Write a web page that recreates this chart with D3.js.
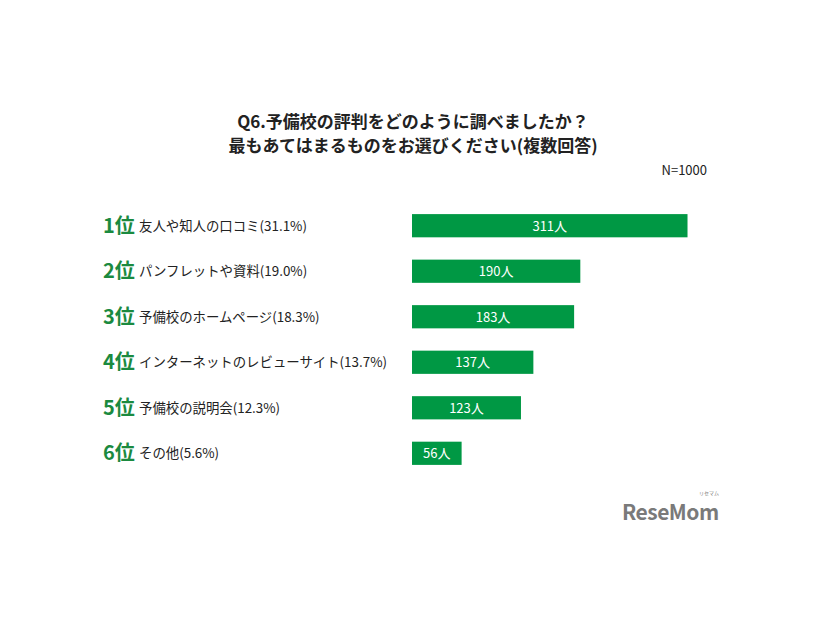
<!DOCTYPE html>
<html>
<head>
<meta charset="utf-8">
<script src="https://cdn.jsdelivr.net/npm/d3@7"></script>
<style>
  body { margin: 0; background: #fff; }
  text { font-family: "Noto Sans CJK JP", "Noto Sans", sans-serif; }
</style>
</head>
<body>
<div id="chart"></div>
<script>
const ranks = ["1位", "2位", "3位", "4位", "5位", "6位"];
const labels = [
    "友人や知人の口コミ(31.1%)",
    "パンフレットや資料(19.0%)",
    "予備校のホームページ(18.3%)",
    "インターネットのレビューサイト(13.7%)",
    "予備校の説明会(12.3%)",
    "その他(5.6%)"
];
const counts = [311, 190, 183, 137, 123, 56];
const titleLines = [
    "Q6.予備校の評判をどのように調べましたか？",
    "最もあてはまるものをお選びください(複数回答)"
];

const W = 826, H = 620;
const green = "#009844";

const svg = d3.select("#chart")
    .append("svg")
    .attr("width", W)
    .attr("height", H);

// title
svg.append("g")
    .selectAll("text")
    .data(titleLines)
    .enter()
    .append("text")
    .attr("x", 413)
    .attr("y", (d, i) => 128 + i * 24)
    .attr("text-anchor", "middle")
    .attr("font-size", 17)
    .attr("font-weight", "bold")
    .attr("fill", "#222")
    .text(d => d);

svg.append("text")
    .attr("x", 707)
    .attr("y", 175)
    .attr("text-anchor", "end")
    .attr("font-size", 13)
    .attr("fill", "#222")
    .text("N=1000");

const x = d3.scaleLinear().domain([0, 333]).range([412, 707]);
const y = d3.scaleBand()
    .domain(d3.range(counts.length))
    .range([205, 474])
    .paddingInner(0.49)
    .paddingOuter(0.2);

const rows = svg.selectAll(".row")
    .data(counts)
    .enter()
    .append("g")
    .attr("class", "row");

rows.append("rect")
    .attr("x", x(0))
    .attr("y", (d, i) => y(i))
    .attr("width", d => x(d) - x(0))
    .attr("height", y.bandwidth())
    .attr("fill", green);

rows.append("text")
    .attr("x", d => (x(0) + x(d)) / 2)
    .attr("y", (d, i) => y(i) + y.bandwidth() / 2 + 5)
    .attr("text-anchor", "middle")
    .attr("font-size", 13)
    .attr("fill", "#fff")
    .text(d => d + "人");

rows.append("text")
    .attr("x", 103)
    .attr("y", (d, i) => y(i) + y.bandwidth() / 2 + 7)
    .attr("font-size", 20)
    .attr("font-weight", "bold")
    .attr("fill", "#1b8a3f")
    .text((d, i) => ranks[i]);

rows.append("text")
    .attr("x", 139)
    .attr("y", (d, i) => y(i) + y.bandwidth() / 2 + 5)
    .attr("font-size", 13.4)
    .attr("fill", "#222")
    .text((d, i) => labels[i]);

// logo
const logo = svg.append("g").attr("fill", "#7a7a7a");
logo.append("text")
    .attr("x", 622)
    .attr("y", 520)
    .attr("font-size", 21)
    .attr("font-weight", "bold")
    .attr("font-family", "Lato, sans-serif")
    .attr("letter-spacing", -0.5)
    .text("ReseMom");
logo.append("text")
    .attr("x", 699)
    .attr("y", 495)
    .attr("font-size", 5)
    .text("リセマム");
</script>
</body>
</html>
